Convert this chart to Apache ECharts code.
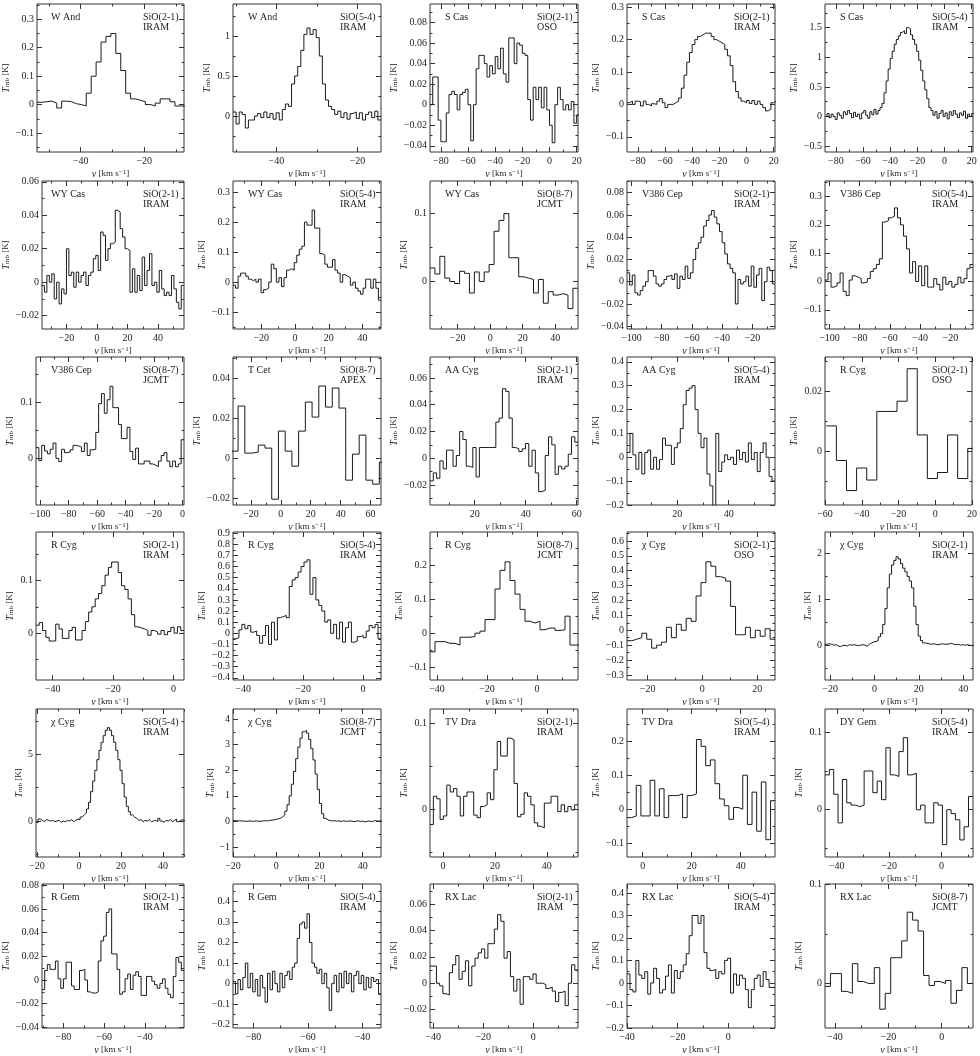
<!DOCTYPE html>
<html>
<head>
<meta charset="utf-8">
<script src="https://cdn.jsdelivr.net/npm/echarts@6/dist/echarts.min.js"></script>
<style>
  html, body { margin: 0; padding: 0; background: #fff; }
  #chart { width: 980px; height: 1056px; }
</style>
</head>
<body>
<div id="chart"></div>
<script>
// spectra (T_mb in K), one value per channel
const wAnd21 = [0.008,0.01,0.012,0.005,-0.012,0.012,0.01,0.003,0.0,-0.005,0.04,0.1,0.15,0.22,0.24,0.25,0.18,0.12,0.04,0.02,0.015,0.01,0.0,-0.005,0.005,0.02,0.02,0.01,-0.005,-0.005];
const wAnd54 = [0.05,-0.1,0.05,0.02,-0.15,-0.05,-0.05,0.0,0.03,-0.02,0.05,-0.02,0.03,-0.04,0.04,-0.05,0.08,0.15,0.12,0.4,0.5,0.62,0.82,1.02,1.1,1.02,1.08,0.98,0.75,0.4,0.2,0.12,0.08,0.02,0.06,-0.02,0.04,-0.04,0.03,0.05,-0.03,0.04,-0.05,0.02,0.05,-0.02,0.06,-0.05];
const sCas21oso = [0.0,0.027,0.027,-0.015,-0.036,-0.036,-0.008,0.01,0.013,0.01,-0.005,0.01,0.012,0.015,0.0,-0.035,0.0,0.035,0.048,0.048,0.04,0.027,0.038,0.03,0.047,0.035,0.055,0.03,0.022,0.065,0.065,0.04,0.06,0.058,0.05,0.048,0.005,-0.015,0.017,0.005,0.017,-0.003,0.017,-0.005,-0.02,-0.037,0.0,0.017,0.005,-0.005,0.0,-0.005,0.003,-0.018,-0.01];
const sCas21 = [0.005,0.01,0.0,0.01,0.008,-0.005,0.01,0.0,-0.005,0.002,0.0,0.01,0.018,0.005,-0.01,0.0,0.0,0.005,0.01,0.02,0.05,0.09,0.13,0.16,0.185,0.2,0.21,0.215,0.22,0.22,0.22,0.21,0.2,0.195,0.19,0.185,0.17,0.15,0.12,0.07,0.04,0.02,0.01,0.005,0.012,0.003,0.012,0.0,0.01,0.0,-0.01,-0.02,-0.015,0.005,0.01];
const sCas54 = [0.0,0.05,-0.02,0.04,0.0,-0.05,0.06,0.02,-0.03,0.08,0.03,0.1,0.05,-0.02,0.07,0.0,0.04,-0.04,0.06,0.1,0.02,-0.03,0.08,0.03,0.12,0.04,0.1,0.15,0.22,0.4,0.6,0.8,0.98,1.1,1.22,1.3,1.36,1.42,1.45,1.4,1.5,1.48,1.38,1.3,1.22,1.1,0.95,0.78,0.6,0.45,0.3,0.15,0.1,0.02,0.08,-0.03,0.05,0.1,0.0,0.06,-0.04,0.08,0.02,0.1,0.04,-0.02,0.06,0.02,0.09,-0.03,0.04,0.0,0.05];
const wyCas21 = [-0.002,-0.006,0.004,0.0,0.005,-0.01,0.0,-0.013,-0.004,-0.007,0.02,0.004,0.006,-0.003,0.006,0.0,0.004,0.006,-0.002,0.004,0.006,0.014,0.016,0.007,0.03,0.028,0.013,0.02,0.023,0.024,0.043,0.042,0.032,0.027,0.02,0.019,-0.006,0.008,-0.006,0.004,-0.005,0.015,-0.002,0.007,0.017,-0.002,0.0,-0.006,0.007,-0.004,-0.008,-0.006,-0.008,0.004,-0.004,-0.012,-0.016,-0.002];
const wyCas54 = [-0.01,-0.02,0.02,0.03,0.03,0.02,0.01,0.005,0.01,0.0,0.01,-0.035,-0.025,-0.02,0.0,0.06,0.045,0.0,0.015,-0.015,0.015,0.04,0.045,0.04,0.065,0.09,0.11,0.12,0.2,0.19,0.19,0.24,0.18,0.18,0.095,0.09,0.06,0.05,0.05,0.075,0.04,0.03,0.0,0.025,0.02,0.015,-0.01,0.0,-0.02,-0.03,-0.04,-0.02,0.01,0.01,-0.02,0.01,-0.02,-0.06];
const wyCas87 = [0.02,0.011,0.037,0.005,0.0,-0.003,0.015,0.012,-0.017,0.014,0.0,0.014,0.025,0.074,0.09,0.1,0.035,0.035,0.007,0.005,0.003,-0.017,0.003,-0.032,-0.015,-0.02,-0.018,-0.02,-0.04,-0.01];
const v386Cep21 = [0.008,-0.003,0.006,-0.01,-0.012,-0.008,-0.004,0.0,0.01,0.01,0.005,-0.002,-0.004,-0.002,0.002,0.005,0.006,0.002,0.007,-0.006,0.005,0.002,0.014,0.003,0.008,0.02,0.03,0.035,0.04,0.05,0.055,0.06,0.064,0.058,0.052,0.045,0.035,0.025,0.016,0.012,0.008,-0.02,0.002,-0.002,0.0,0.005,-0.004,0.014,-0.005,0.006,0.012,-0.017,0.0,0.013,0.01,-0.002];
const v386Cep54 = [0.005,0.03,-0.02,-0.015,-0.005,0.03,-0.035,-0.05,0.005,0.02,0.015,0.01,-0.005,-0.002,0.01,0.035,0.045,0.06,0.08,0.21,0.215,0.225,0.23,0.26,0.225,0.2,0.16,0.115,0.03,0.07,0.0,0.055,-0.015,0.055,-0.02,-0.02,0.01,-0.01,-0.03,0.015,-0.01,0.0,-0.02,-0.01,0.015,-0.005,0.01,0.045,0.06];
const v386Cep87 = [0.019,-0.004,0.023,0.013,0.008,0.016,0.027,0.0,-0.006,0.016,0.01,0.011,0.015,0.023,0.022,0.02,0.012,0.027,0.005,0.015,0.016,0.046,0.097,0.115,0.08,0.104,0.128,0.09,0.09,0.06,0.035,0.035,0.055,0.012,-0.002,0.018,-0.01,-0.01,-0.005,-0.005,-0.01,-0.012,-0.015,-0.005,0.005,0.01,-0.005,-0.015,-0.005,-0.015,-0.01,0.033];
const tCet87 = [0.0035,0.026,0.0025,0.003,0.0065,0.005,-0.0205,0.0135,0.0035,-0.004,0.0135,0.028,0.0205,0.036,0.0255,0.035,0.025,-0.011,0.002,0.0115,-0.011,-0.013,-0.002];
const aaCyg21 = [-0.017,-0.011,-0.015,-0.002,-0.008,0.006,0.006,-0.006,0.002,0.02,0.014,-0.006,-0.007,0.008,-0.014,0.008,0.008,0.008,0.008,0.008,0.027,0.03,0.052,0.05,0.03,0.008,0.007,0.005,0.007,0.011,-0.006,0.006,-0.011,-0.025,-0.024,0.002,0.016,0.01,-0.012,-0.006,-0.008,-0.006,0.003,0.016,0.012];
const aaCyg54 = [0.02,0.1,0.01,-0.05,0.02,-0.07,0.02,0.03,-0.05,0.0,-0.05,-0.01,0.08,0.05,0.05,-0.03,0.04,0.06,0.12,0.22,0.28,0.29,0.3,0.2,0.1,0.04,0.08,-0.07,-0.12,-0.22,0.1,-0.06,-0.02,0.01,-0.01,0.0,-0.03,0.03,-0.01,0.02,-0.02,0.06,-0.01,0.02,-0.06,0.02,0.06,0.0,-0.08,-0.1];
const rCyg21oso = [0.0085,-0.003,-0.013,-0.0055,-0.0095,0.0133,0.0133,0.0167,0.0275,0.0055,-0.009,-0.007,0.0055,-0.009,0.001];
const rCyg21 = [0.015,0.02,0.005,-0.008,-0.015,-0.015,0.017,0.008,-0.01,-0.01,0.005,0.011,-0.013,-0.013,0.005,0.022,0.04,0.05,0.065,0.075,0.09,0.11,0.125,0.135,0.135,0.115,0.09,0.083,0.065,0.035,0.012,0.01,0.008,0.005,-0.004,0.005,0.002,-0.002,0.005,-0.003,0.003,0.011,0.0,0.012,0.005];
const rCyg54 = [-0.05,-0.04,0.03,0.08,0.04,0.07,0.01,0.02,-0.02,-0.09,-0.02,0.07,-0.1,0.1,-0.06,0.14,0.15,0.16,0.14,0.42,0.48,0.5,0.55,0.6,0.64,0.66,0.35,0.5,0.3,0.25,0.2,0.1,0.12,0.0,0.08,-0.05,0.1,-0.08,0.05,0.1,-0.08,-0.07,-0.03,-0.02,-0.04,0.02,0.07,0.05,0.08,-0.05];
const rCyg87 = [-0.055,-0.025,-0.025,-0.03,-0.03,-0.035,-0.012,-0.012,-0.01,0.0,0.006,0.04,0.04,0.13,0.185,0.21,0.155,0.115,0.07,0.035,0.03,0.035,0.01,0.015,0.015,0.008,0.01,0.05,-0.035,-0.035];
const chiCyg21oso = [-0.07,-0.06,-0.05,-0.02,-0.06,-0.12,-0.1,-0.08,0.02,-0.05,0.04,0.0,0.08,0.06,0.23,0.32,0.46,0.43,0.36,0.35,0.33,0.16,-0.03,-0.03,0.02,-0.05,0.0,-0.04,0.01,-0.06];
const chiCyg21 = [0.02,0.03,0.02,0.0,0.01,-0.02,-0.03,-0.01,0.0,-0.02,0.01,0.0,0.01,0.0,-0.01,0.0,0.01,0.0,-0.02,0.02,0.05,0.07,0.08,0.1,0.18,0.25,0.45,0.8,1.25,1.55,1.75,1.85,1.93,1.88,1.78,1.68,1.6,1.5,1.4,1.25,0.85,0.45,0.2,0.1,0.05,0.04,0.03,0.02,0.03,0.02,0.01,0.02,0.03,0.02,0.02,0.03,0.04,0.02,0.01,0.02,0.0,0.01,0.0,0.01,0.0,-0.01,0.0];
const chiCyg54 = [-0.1,0.15,0.05,-0.05,0.1,0.05,0.0,0.05,-0.05,0.0,0.05,-0.1,0.0,-0.05,0.05,0.0,0.1,-0.05,0.05,0.15,0.1,0.3,0.45,0.6,0.9,1.4,2.2,3.0,3.8,4.6,5.3,5.9,6.4,6.8,7.0,6.8,6.4,5.9,5.3,4.6,3.8,2.8,1.8,1.1,0.7,0.45,0.3,0.2,0.05,0.1,-0.05,0.05,0.0,0.1,-0.05,0.0,0.05,-0.05,0.2,0.0,-0.1,0.05,0.0,0.1,-0.05,0.05,0.15,-0.05,0.05,0.1,0.0];
const chiCyg87 = [0.03,0.02,0.03,0.01,0.02,0.0,0.01,0.02,0.0,0.01,0.02,0.0,0.01,0.02,0.03,0.02,0.04,0.05,0.06,0.08,0.1,0.12,0.18,0.25,0.4,0.65,1.0,1.45,1.95,2.45,2.9,3.25,3.5,3.55,3.45,3.2,2.85,2.4,1.85,1.25,0.7,0.3,0.12,0.06,0.03,0.02,0.03,0.01,0.02,0.0,0.02,0.01,0.0,0.02,0.01,-0.01,0.01,0.02,0.0,0.01,-0.02,0.0,0.02,-0.01,0.01,0.03,0.01,0.02,0.01];
const tvDra21 = [-0.018,0.015,0.012,-0.012,-0.008,0.028,0.02,0.024,0.015,-0.008,0.015,0.02,0.02,-0.007,-0.01,0.003,0.005,0.019,0.011,0.046,0.079,0.062,0.062,0.083,0.081,0.03,-0.009,-0.006,0.019,0.015,0.005,-0.016,-0.02,-0.022,0.007,0.007,0.015,0.015,-0.003,0.005,-0.003,0.003,-0.001,0.005];
const tvDra54 = [-0.025,-0.02,0.07,-0.02,-0.02,0.085,-0.02,0.06,-0.025,0.04,0.04,0.045,-0.025,0.04,0.045,0.205,0.185,0.128,0.145,0.075,0.03,0.01,-0.03,0.005,0.0,0.1,-0.045,0.05,-0.065,0.08,-0.09,0.025];
const dyGem54 = [0.045,0.052,0.02,-0.017,0.039,0.009,0.006,0.004,0.006,0.05,0.05,0.022,0.037,0.013,0.08,0.045,0.043,0.075,0.093,0.045,0.047,0.0,0.006,-0.017,-0.017,0.009,0.006,-0.045,0.0,-0.005,-0.013,-0.039,-0.022,0.017];
const rGem21 = [-0.008,0.008,0.013,0.009,0.009,0.016,0.001,-0.007,0.001,0.015,0.015,-0.005,-0.008,-0.008,0.008,0.009,0.0,-0.01,-0.011,-0.011,-0.01,0.016,0.033,0.037,0.057,0.06,0.022,0.022,0.009,-0.012,-0.01,0.001,0.005,-0.008,0.004,0.007,0.003,-0.013,-0.013,0.003,0.003,-0.001,-0.004,-0.007,-0.003,0.001,-0.007,-0.012,-0.015,0.003,0.019,0.015,0.008];
const rGem54 = [0.01,-0.05,0.02,-0.03,0.03,0.1,-0.02,0.05,-0.04,0.02,-0.06,0.04,-0.02,-0.09,0.05,-0.03,0.06,0.0,-0.04,0.05,-0.02,0.04,0.06,0.02,0.08,0.1,0.22,0.29,0.3,0.27,0.34,0.2,0.1,0.08,0.05,0.07,0.0,0.05,-0.02,-0.13,0.0,0.04,-0.04,0.05,-0.02,0.06,0.0,0.05,-0.04,0.04,0.06,0.0,0.04,-0.03,0.03,-0.02,0.03,0.01,0.02,-0.05];
const rxLac21 = [0.013,0.013,0.0,-0.002,-0.008,-0.009,0.008,0.014,0.021,0.003,0.009,0.017,-0.002,0.013,0.019,0.023,0.026,0.019,0.03,0.03,0.041,0.052,0.047,0.019,0.024,0.005,-0.006,0.003,-0.016,0.005,0.005,0.003,0.007,0.0,0.0,-0.001,-0.004,-0.003,-0.006,-0.014,-0.007,-0.006,-0.017,0.0,0.014,0.01];
const rxLac54 = [0.04,-0.03,-0.04,0.1,0.035,0.02,0.05,-0.05,0.0,0.065,0.02,-0.045,-0.03,0.03,0.08,-0.045,0.055,0.02,0.05,0.08,0.13,0.21,0.3,0.3,0.265,0.3,0.135,0.065,0.055,0.06,0.02,0.05,0.04,0.1,0.11,-0.045,0.04,-0.01,0.035,0.02,-0.03,-0.11,-0.03,0.02,0.035,-0.015,0.05,0.015,-0.02,-0.02];
const rxLac87 = [-0.003,0.01,0.01,-0.008,-0.01,0.02,0.002,0.0,0.0,0.016,-0.026,-0.01,0.026,0.026,0.043,0.072,0.064,0.053,0.008,-0.002,0.002,0.0,0.003,-0.02,-0.007,0.016,0.0];

const spectra = [wAnd21, wAnd54, sCas21oso, sCas21, sCas54,
  wyCas21, wyCas54, wyCas87, v386Cep21, v386Cep54,
  v386Cep87, tCet87, aaCyg21, aaCyg54, rCyg21oso,
  rCyg21, rCyg54, rCyg87, chiCyg21oso, chiCyg21,
  chiCyg54, chiCyg87, tvDra21, tvDra54, dyGem54,
  rGem21, rGem54, rxLac21, rxLac54, rxLac87];

const stars = ['W And','W And','S Cas','S Cas','S Cas',
  'WY Cas','WY Cas','WY Cas','V386 Cep','V386 Cep',
  'V386 Cep','T Cet','AA Cyg','AA Cyg','R Cyg',
  'R Cyg','R Cyg','R Cyg','\u03c7 Cyg','\u03c7 Cyg',
  '\u03c7 Cyg','\u03c7 Cyg','TV Dra','TV Dra','DY Gem',
  'R Gem','R Gem','RX Lac','RX Lac','RX Lac'];
const transitions = ['SiO(2-1)','SiO(5-4)','SiO(2-1)','SiO(2-1)','SiO(5-4)',
  'SiO(2-1)','SiO(5-4)','SiO(8-7)','SiO(2-1)','SiO(5-4)',
  'SiO(8-7)','SiO(8-7)','SiO(2-1)','SiO(5-4)','SiO(2-1)',
  'SiO(2-1)','SiO(5-4)','SiO(8-7)','SiO(2-1)','SiO(2-1)',
  'SiO(5-4)','SiO(8-7)','SiO(2-1)','SiO(5-4)','SiO(5-4)',
  'SiO(2-1)','SiO(5-4)','SiO(2-1)','SiO(5-4)','SiO(8-7)'];
const telescopes = ['IRAM','IRAM','OSO','IRAM','IRAM',
  'IRAM','IRAM','JCMT','IRAM','IRAM',
  'JCMT','APEX','IRAM','IRAM','OSO',
  'IRAM','IRAM','JCMT','OSO','IRAM',
  'IRAM','JCMT','IRAM','IRAM','IRAM',
  'IRAM','IRAM','IRAM','IRAM','JCMT'];

// velocity axis extents (km/s) and channel grid
const xRanges = [[-53.75,-7.5],[-50.7,-14.2],[-88,21],[-88,21],[-88,21],
  [-36,57],[-36.7,50.9],[-37,54],[-103,-5],[-103,-5],
  [-103,1],[-32,67],[2.5,60.5],[0.5,58],[-60,20],
  [-45.5,3.5],[-43.4,6],[-42.8,16.4],[-27.5,26.5],[-22.3,44.4],
  [-20.5,50],[-20,48.5],[-5,52],[-6.4,54],[-44.5,12],
  [-90.5,-20.8],[-87.5,-33.2],[-41.3,17.9],[-40,18.5],[-43.7,11.7]];
const channelStart = [-53.75,-50.7,-88,-88,-88, -36,-36.7,-37,-103,-103,
  -103,-33.1,2.5,0.5,-59.3, -45.5,-43.4,-42.8,-27.5,-22.3,
  -20.5,-20,-5,-6.4,-44.5, -90.5,-87.5,-41.3,-40,-43.7];
const channelWidth = [1.55,0.76,2,2,1.5, 1.6,1.51,3.03,1.75,2,
  2,4.5,1.29,1.15,5.5, 1.089,0.988,2,1.8,1,
  1,1,1.295,1.89,1.66, 1.315,0.905,1.287,1.17,2.05];

// temperature axis extents (K) and label step
const yRanges = [[-0.167,0.354],[-0.45,1.4],[-0.046,0.098],[-0.147,0.31],[-0.6,1.9],
  [-0.028,0.0605],[-0.156,0.337],[-0.07,0.148],[-0.0425,0.0905],[-0.168,0.355],
  [-0.083,0.18],[-0.0234,0.0505],[-0.035,0.0757],[-0.2,0.42],[-0.0178,0.0314],
  [-0.089,0.192],[-0.42,0.91],[-0.138,0.298],[-0.334,0.66],[-0.76,2.47],
  [-2.7,8.4],[-1.39,4.39],[-0.056,0.117],[-0.141,0.295],[-0.061,0.13],
  [-0.0405,0.081],[-0.216,0.485],[-0.034,0.0753],[-0.2005,0.44],[-0.045,0.1005]];
const yLabelStep = [0.1,0.5,0.02,0.1,0.5, 0.02,0.1,0.1,0.02,0.1,
  0.1,0.02,0.02,0.1,0.02, 0.1,0.1,0.1,0.1,1,
  5,1,0.1,0.1,0.1, 0.02,0.1,0.02,0.1,0.1];
const xLabelStep = 20;

const colLeft = [36, 233, 430, 627, 825];
const rowTop = [4, 181, 357, 532, 709, 884];
const PW = 148, PH = 148;
const FONT = 'Liberation Serif';
const INK = '#222';

function tickList(lo, hi, step) {
  const out = [];
  const start = Math.ceil(lo / step - 1e-9);
  for (let k = start; k * step <= hi + 1e-9; k++) out.push(+(k * step).toFixed(6));
  return out;
}
function minorList(lo, hi, step) {
  const major = tickList(lo, hi, step).map(String);
  return tickList(lo, hi, step / 2).filter(v => major.indexOf(String(v)) < 0);
}
function fmt(v) {
  return String(+(+v).toFixed(6)).replace('-', '\u2212');
}

function renderChart() {
  const chart = echarts.init(document.getElementById('chart'), null, { renderer: 'canvas' });
  const option = { animation: false, backgroundColor: '#fff', grid: [], xAxis: [], yAxis: [], series: [], graphic: [] };

  spectra.forEach((vals, i) => {
    const left = colLeft[i % 5];
    const top = rowTop[Math.floor(i / 5)];
    const [x0, x1] = xRanges[i];
    const [y0, y1] = yRanges[i];
    option.grid.push({ left: left, top: top, width: PW, height: PH, show: true, borderColor: '#333', borderWidth: 1, backgroundColor: 'transparent' });

    const xMaj = tickList(x0, x1, xLabelStep), xMin = minorList(x0, x1, xLabelStep);
    const yMaj = tickList(y0, y1, yLabelStep[i]), yMin = minorList(y0, y1, yLabelStep[i]);
    const yChars = Math.max.apply(null, yMaj.map(v => fmt(v).length));

    const base = (pos, lo, hi) => ({
      gridIndex: i, type: 'value', position: pos, min: lo, max: hi,
      axisLine: { show: false, onZero: false },
      splitLine: { show: false },
      axisLabel: { show: false }
    });
    const tick = (vals, len) => ({ show: true, inside: true, length: len, customValues: vals, lineStyle: { color: '#333', width: 1 } });

    // x axes: labelled bottom, mirrored top, minor bottom/top
    option.xAxis.push(Object.assign(base('bottom', x0, x1), {
      axisTick: tick(xMaj, 5),
      axisLabel: { show: true, customValues: xMaj, formatter: fmt, fontFamily: FONT, fontSize: 10, color: INK, margin: 4 },
      name: '{v|v} [km s{p|\u22121}]', nameLocation: 'middle', nameGap: 17,
      nameTextStyle: { fontFamily: FONT, fontSize: 9, color: INK,
        rich: { v: { fontFamily: FONT, fontSize: 10, fontStyle: 'italic', color: INK }, p: { fontFamily: FONT, fontSize: 7, verticalAlign: 'top', color: INK } } }
    }));
    option.xAxis.push(Object.assign(base('top', x0, x1), { axisTick: tick(xMaj, 5) }));
    option.xAxis.push(Object.assign(base('bottom', x0, x1), { axisTick: tick(xMin, 2.5) }));
    option.xAxis.push(Object.assign(base('top', x0, x1), { axisTick: tick(xMin, 2.5) }));

    // y axes
    option.yAxis.push(Object.assign(base('left', y0, y1), {
      axisTick: tick(yMaj, 5),
      axisLabel: { show: true, customValues: yMaj, formatter: fmt, fontFamily: FONT, fontSize: 10, color: INK, margin: 3 },
      name: '{t|T}{s|mb} [K]', nameLocation: 'middle', nameGap: 5 * yChars + 6, nameRotate: 90,
      nameTextStyle: { fontFamily: FONT, fontSize: 9, color: INK,
        rich: { t: { fontFamily: FONT, fontSize: 10, fontStyle: 'italic', color: INK }, s: { fontFamily: FONT, fontSize: 7, verticalAlign: 'bottom', color: INK } } }
    }));
    option.yAxis.push(Object.assign(base('right', y0, y1), { axisTick: tick(yMaj, 5) }));
    option.yAxis.push(Object.assign(base('left', y0, y1), { axisTick: tick(yMin, 2.5) }));
    option.yAxis.push(Object.assign(base('right', y0, y1), { axisTick: tick(yMin, 2.5) }));

    // histogram-style spectrum: left channel edges, closed at the last right edge
    const pts = vals.map((t, k) => [+(channelStart[i] + k * channelWidth[i]).toFixed(4), t]);
    pts.push([+(channelStart[i] + vals.length * channelWidth[i]).toFixed(4), vals[vals.length - 1]]);
    option.series.push({
      type: 'line', xAxisIndex: 4 * i, yAxisIndex: 4 * i, data: pts,
      step: 'end', symbol: 'none', silent: true, clip: true,
      lineStyle: { color: '#1a1a1a', width: 1 }
    });

    const txt = (x, y, s) => ({ type: 'text', left: x, top: y, silent: true,
      style: { text: s, font: '10px "' + FONT + '"', fill: INK } });
    option.graphic.push(txt(left + 15, top + 8, stars[i]));
    option.graphic.push(txt(left + 107, top + 8, transitions[i]));
    option.graphic.push(txt(left + 107, top + 18, telescopes[i]));
  });

  chart.setOption(option);
}

document.addEventListener('DOMContentLoaded', renderChart);
</script>
</body>
</html>
